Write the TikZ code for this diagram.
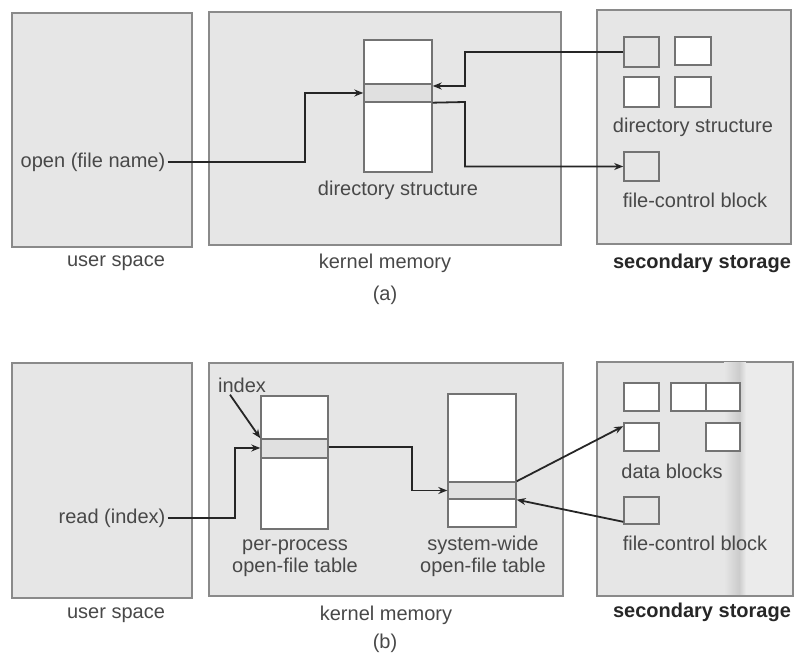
\documentclass[tikz,border=0pt]{standalone}
\usepackage{fontspec}
\setmainfont{Liberation Sans}
\usetikzlibrary{arrows.meta,fit,calc}
\definecolor{bg}{HTML}{E6E6E6}
\definecolor{edge}{HTML}{8A8A8A}
\definecolor{txt}{HTML}{484848}
\definecolor{stripe}{HTML}{E0E0E0}
\begin{document}
\begin{tikzpicture}[x=0.5pt,y=-0.5pt,
 area/.style={draw=edge, line width=0.9pt, fill=bg, inner sep=0pt},
 tabbox/.style={draw=black!55, line width=0.7pt, fill=white, inner sep=0pt},
 rowbox/.style={draw=black!55, line width=0.7pt, fill=stripe, inner sep=0pt},
 blk/.style={draw=black!55, line width=0.8pt, fill=white, inner sep=0pt},
 gblk/.style={blk, fill=bg},
 lbl/.style={text=txt, font=\fontsize{10}{11}\selectfont, inner sep=1pt, align=center},
 blbl/.style={text=black!85, font=\fontsize{10}{11}\selectfont\bfseries, inner sep=1pt},
 arr/.style={draw=black!85, line width=0.9pt, -{Stealth[length=4.5pt,width=3.5pt]}}]
\useasboundingbox (0,0) rectangle (794,656);

% ---------- (a) ----------
\node[area, fit={(12,13) (192,247)}] (usA) {};
\node[area, fit={(209,12) (561,245)}] (kmA) {};
\node[area, fit={(597,10) (791,244)}] (ssA) {};

\node[tabbox, fit={(364,40) (432,172)}] (dirtab) {};
\node[rowbox, fit={(364,84) (432,102)}] (dirrow) {};

\node[gblk, fit={(624,37) (659,67)}] (sblk1) {};
\node[blk, fit={(675,37) (711,65)}] (sblk2) {};
\node[blk, fit={(624,77) (659,107)}] (sblk3) {};
\node[blk, fit={(675,77) (711,107)}] (sblk4) {};
\node[gblk, fit={(624,152) (659,181)}] (fcbA) {};

\node[lbl] (open) at (93,162) {open (file name)};
\node[lbl] (dirlbl) at (398,190) {directory structure};
\node[lbl] (dslbl) at (693,127) {directory structure};
\node[lbl] (fcblblA) at (695,200) {file-control block};
\node[lbl] (userA) at (116,263) {user space};
\node[lbl] (kernA) at (385,263) {kernel memory};
\node[blbl] (secA) at (702,263) {secondary storage};
\node[lbl] (capA) at (385,295) {(a)};

\coordinate (a1) at (305,93);
\draw[arr] (open.east) -| (a1) -- (dirtab.west |- a1);
\coordinate (a2) at (465,86);
\draw[arr] (sblk1.west) -| (a2) -- (dirtab.east |- a2);
\coordinate (a3) at (465,102);
\draw[arr] (dirrow.south east) -- (a3) |- (fcbA.west);

% ---------- (b) ----------
\node[area, fit={(12,363) (192,598)}] (usB) {};
\node[area, fit={(209,363) (563,596)}] (kmB) {};
\node[area, fit={(597,362) (793,596)}] (ssB) {};
\shade[left color=bg, right color=black!20] (724,363) rectangle (739,595);
\shade[left color=black!20, right color=bg!80!white] (739,363) rectangle (746,595);
\fill[bg!80!white] (746,363) rectangle (792.5,595);
\draw[edge, line width=0.9pt] (746,362) -- (793,362) -- (793,596) -- (746,596);

\node[tabbox, fit={(261,396) (328,529)}] (pptab) {};
\node[rowbox, fit={(261,439) (328,458)}] (pprow) {};
\node[tabbox, fit={(448,394) (516,527)}] (swtab) {};
\node[rowbox, fit={(448,482) (516,499)}] (swrow) {};

\node[blk, fit={(624,383) (659,411)}] (dblk1) {};
\node[blk, fit={(671,383) (706,411)}] (dblk2) {};
\node[blk, fit={(706,383) (740,411)}] (dblk3) {};
\node[blk, fit={(624,423) (659,451)}] (dblk4) {};
\node[blk, fit={(706,423) (740,451)}] (dblk5) {};
\node[gblk, fit={(624,497) (659,524)}] (fcbB) {};

\node[lbl] (idx) at (242,385) {index};
\node[lbl] (read) at (112,518) {read (index)};
\node[lbl] (pplbl) at (295,558) {per-process\\open-file table};
\node[lbl] (swlbl) at (483,556) {system-wide\\open-file table};
\node[lbl] (dblbl) at (672,471) {data blocks};
\node[lbl] (fcblblB) at (695,543) {file-control block};
\node[lbl] (userB) at (116,615) {user space};
\node[lbl] (kernB) at (386,615) {kernel memory};
\node[blbl] (secB) at (702,612) {secondary storage};
\node[lbl] (capB) at (385,643) {(b)};

\draw[arr] ($(idx.south)+(-12,0)$) -- (pprow.north west);
\coordinate (b1) at (235,448);
\draw[arr] (read.east) -| (b1) -- (pptab.west |- b1);
\coordinate (b2) at (412,447);
\draw[arr] (pptab.east |- b2) -- (b2) |- (swrow.west);
\draw[arr] (swrow.north east) -- ($(dblk4.north west)+(0,4)$);
\draw[arr] ($(fcbB.south west)+(0,-3)$) -- (swrow.south east);
\end{tikzpicture}
\end{document}
